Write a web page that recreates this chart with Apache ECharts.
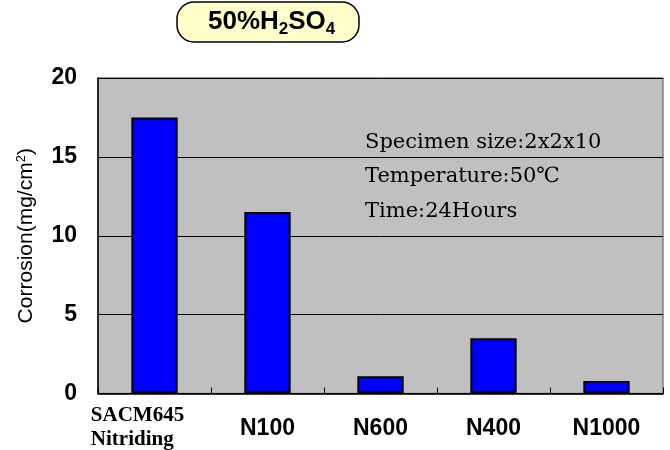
<!DOCTYPE html>
<html><head><meta charset="utf-8">
<script src="https://cdn.jsdelivr.net/npm/echarts@6/dist/echarts.min.js"></script>
<style>html,body{margin:0;padding:0;background:#fff}#c{width:670px;height:450px}</style>
</head><body><div id="c"></div>
<script>
const categories = ['SACM645\nNitriding', 'N100', 'N600', 'N400', 'N1000'];
const corrosion = [17.5, 11.5, 1.1, 3.5, 0.8];
const yTicks = [0, 5, 10, 15, 20];
const notes = ['Specimen size:2x2x10', 'Temperature:50℃', 'Time:24Hours'];

const chart = echarts.init(document.getElementById('c'));
chart.setOption({
  animation: false,
  title: {
    text: '{a|50%H}{s|2}{a|SO}{s|4}',
    left: 177, top: 3,
    backgroundColor: '#FFFFCC',
    borderColor: '#000', borderWidth: 1.5, borderRadius: 17,
    padding: [5, 24, 5, 31],
    textStyle: {
      rich: {
        a: {fontFamily: 'Liberation Sans', fontWeight: 'bold', fontSize: 26, color: '#000', lineHeight: 28},
        s: {fontFamily: 'Liberation Sans', fontWeight: 'bold', fontSize: 17, color: '#000', padding: [14, 0, 0, 0], lineHeight: 28}
      }
    }
  },
  grid: {left: 98, right: 7, top: 78, bottom: 56, show: true, backgroundColor: '#C0C0C0', borderColor: '#808080', borderWidth: 1.5},
  xAxis: {
    type: 'category', data: categories,
    axisLine: {lineStyle: {color: '#000', width: 1.5}},
    axisTick: {show: true, inside: true, length: 6, lineStyle: {color: '#000'}},
    axisLabel: {
      margin: 10,
      formatter: function (v, i) {
        if (i === 0) return v.split('\n').map(function (s) { return '{f|' + s + '}'; }).join('\n');
        return '{n|' + v + '}';
      },
      rich: {
        f: {fontFamily: 'Liberation Serif', fontWeight: 'bold', fontSize: 21, color: '#000', lineHeight: 24, align: 'left', padding: [0, 0, 0, -34]},
        n: {fontFamily: 'Liberation Sans', fontWeight: 'bold', fontSize: 23, color: '#000', padding: [14, 0, 0, 0]}
      }
    }
  },
  yAxis: {
    type: 'value', min: 0, max: 20, interval: 5,
    name: 'Corrosion(mg/cm{sup|2})', nameLocation: 'middle', nameGap: 60, nameRotate: 90,
    nameTextStyle: {fontFamily: 'Liberation Sans', fontSize: 21, color: '#000',
      rich: {sup: {fontFamily: 'Liberation Sans', fontSize: 13, color: '#000', padding: [0, 0, 10, 0]}}},
    axisLine: {show: true, lineStyle: {color: '#000', width: 1.5}},
    axisTick: {show: false},
    axisLabel: {fontFamily: 'Liberation Sans', fontWeight: 'bold', fontSize: 23, color: '#000', margin: 21,
      formatter: function (v) { return yTicks.indexOf(v) >= 0 ? String(v) : ''; }},
    splitLine: {lineStyle: {color: '#000', width: 1}}
  },
  series: [{
    type: 'bar', data: corrosion, barWidth: '41%',
    itemStyle: {color: '#0000FF', borderColor: '#000', borderWidth: 2}
  }],
  graphic: notes.map(function (t, i) {
    return {type: 'text', left: 365, top: 132 + i * 34.5,
      style: {text: t, fontFamily: 'DejaVu Serif', fontSize: 21, fill: '#000'}};
  })
});
</script></body></html>
